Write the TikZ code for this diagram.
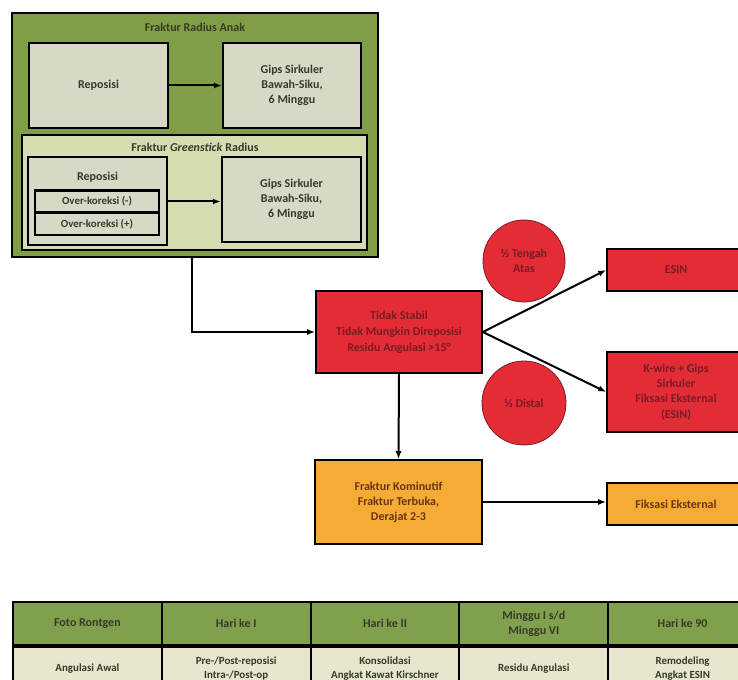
\documentclass[tikz,border=0pt]{standalone}
\usepackage[RGB]{xcolor}
\usepackage{fontspec}
\setmainfont{Carlito}
\usetikzlibrary{positioning,arrows.meta}
\definecolor{G}{RGB}{128,158,70}
\definecolor{GL}{RGB}{214,220,178}
\definecolor{B}{RGB}{216,216,198}
\definecolor{R}{RGB}{228,44,54}
\definecolor{O}{RGB}{246,172,52}
\definecolor{TH}{RGB}{128,160,78}
\definecolor{TB}{RGB}{232,230,206}
\definecolor{txtG}{RGB}{55,58,40}
\definecolor{txtR}{RGB}{120,28,38}
\definecolor{txtO}{RGB}{105,52,20}
\newcommand{\boldfont}{\fontsize{9}{11.4}\selectfont\bfseries}
\newcommand{\smallfont}{\fontsize{8.2}{10.6}\selectfont\bfseries}
\tikzset{
  boxwh/.style 2 args={minimum width=#1*0.75pt, minimum height=#2*0.75pt, inner sep=0pt},
  inbox/.style={draw, line width=1.8pt, fill=B, align=center, text=txtG, font=\boldfont},
  redbox/.style={draw, line width=1.2pt, fill=R, align=center, text=txtR, font=\boldfont},
  orbox/.style={draw, line width=1.2pt, fill=O, align=center, text=txtO, font=\boldfont},
  circ/.style={circle, draw=txtR, line width=0.6pt, fill=R, align=center, text=txtR, font=\boldfont, inner sep=0pt},
  title/.style={text=txtG, font=\boldfont},
  arr/.style={-{Latex[length=6pt,width=4.5pt]}, line width=1.5pt},
  thead/.style={draw, line width=1.4pt, fill=TH, align=center, text=txtG, font=\boldfont, boxwh={148.8}{43}},
  tbody/.style={draw, line width=1.4pt, fill=TB, align=center, text=txtG, font=\smallfont, boxwh={148.8}{44}}
}

\begin{document}
\begin{tikzpicture}[x=0.75pt, y=-0.75pt]
\useasboundingbox (0,0) rectangle (738,680);
\clip (0,0) rectangle (738,680);
% Fraktur Radius Anak
\node[draw, line width=1.5pt, fill=G, boxwh={366}{244}] (anak) at (195,135) {};
\node[title] (anakT) at (195,27) {Fraktur Radius Anak};
\node[inbox, boxwh={139}{85}] (rep1) at (98.5,85.5) {Reposisi};
\node[inbox, boxwh={138}{85}] (gips1) at (292,85.5) {Gips Sirkuler\\Bawah-Siku,\\6 Minggu};
\draw[arr] (rep1) -- (gips1);
% Greenstick
\node[draw, line width=1.8pt, fill=GL, boxwh={345}{115}] (green) at (194.5,192.5) {};
\node[title] (greenT) at (195,147) {Fraktur \textit{Greenstick} Radius};
\node[inbox, boxwh={139}{88}] (rep2) at (97.5,201) {};
\node[title] (rep2T) at (97.5,177) {Reposisi};
\node[inbox, line width=1.6pt, font=\smallfont, boxwh={124}{22}] (okmin) at (97,201.5) {Over-koreksi (-)};
\node[inbox, line width=1.6pt, font=\smallfont, boxwh={124}{22}] (okplus) at (97,224) {Over-koreksi (+)};
\node[inbox, boxwh={139}{85}] (gips2) at (291.5,199.5) {Gips Sirkuler\\Bawah-Siku,\\6 Minggu};
\draw[arr] (rep2.east |- okmin) -- (gips2.west |- okmin);
% Tidak stabil
\node[redbox, boxwh={166}{82}, font=\fontsize{9}{12}\selectfont\bfseries] (stabil) at (399,332) {Tidak Stabil\\Tidak Mungkin Direposisi\\Residu Angulasi >15°};
\coordinate (knee) at (192,332);
\draw[arr] (anak.south -| knee) |- (stabil.west);
\node[circ, minimum size=61.5pt] (tengah) at (524,261) {⅓ Tengah\\Atas};
\node[circ, minimum size=63pt] (distal) at (524,403) {⅓ Distal};
\node[redbox, boxwh={138}{42}] (esin) at (676,270) {ESIN};
\node[redbox, boxwh={138}{80}] (kwire) at (676,392) {K-wire + Gips\\Sirkuler\\Fiksasi Eksternal\\(ESIN)};
\draw[arr] (stabil.east) -- (esin.west);
\draw[arr] (stabil.east) -- (kwire.west);
% Kominutif
\node[orbox, boxwh={167}{84}] (kominutif) at (398.5,502) {Fraktur Kominutif\\Fraktur Terbuka,\\Derajat 2-3};
\node[orbox, boxwh={138}{42}] (fiksasi) at (676,504) {Fiksasi Eksternal};
\draw[arr] (stabil.south) -- (kominutif.north);
\draw[arr] (kominutif.east) -- (kominutif.east -| fiksasi.west);
% tabel
\foreach \i/\head/\body in {0/{Foto Rontgen}/{Angulasi Awal},
    1/{Hari ke I}/{Pre-/Post-reposisi\\Intra-/Post-op},
    2/{Hari ke II}/{Konsolidasi\\Angkat Kawat Kirschner},
    3/{Minggu I s/d\\Minggu VI}/{Residu Angulasi},
    4/{Hari ke 90}/{Remodeling\\Angkat ESIN}}{
  \node[thead] (h\i) at (87.4+148.8*\i,623.5) {\head};
  \node[tbody, below=0pt of h\i] (b\i) {\body};
}
\end{tikzpicture}
\end{document}
